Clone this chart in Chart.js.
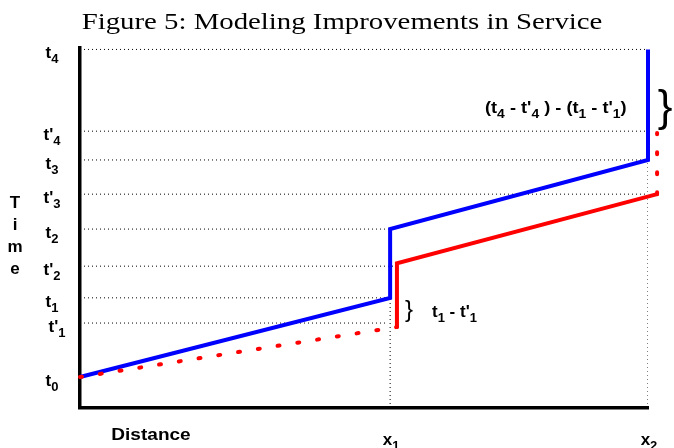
<!DOCTYPE html>
<html>
<head>
<meta charset="utf-8">
<script src="https://cdn.jsdelivr.net/npm/chart.js@4"></script>
<style>
    body { margin: 0; background: #fff; }
</style>
</head>
<body>
<canvas id="chart" width="674" height="448"></canvas>
<script>
// time levels (y) and distance positions (x)
const t0 = 8.6, t1p = 23.6, t1 = 30.6, t2p = 39.4, t2 = 49.7;
const t3p = 59.4, t3 = 68.9, t4p = 76.9, t4 = 99.6;
const x1 = 54.6, x2 = 100;

const titleText = 'Figure 5: Modeling Improvements in Service';

const yTickValues = [t0, t1p, t1, t2p, t2, t3p, t3, t4p, t4];
const yTickBase = ['t', "t'", 't', "t'", 't', "t'", 't', "t'", 't'];
const yTickSub = ['0', '1', '1', '2', '2', '3', '3', '4', '4'];

const xTickValues = [x1, x2];
const xTickSub = ['1', '2'];

// current service (blue)
const blueX = [0, x1, x1, x2, x2];
const blueY = [t0, t1, t2, t3, t4];

// improved service (red)
const redX = [0, 55.8, 55.8, 101.6, 101.6];
const redY = [t0, 22.5, 40.2, 59.4, 76.4];

// dotted guide lines: horizontal ones end where they meet a line
const guideY = [t1p, t1, t2p, t2, t3p, t3, t4p, t4];
const guideEnd = [54.2, x1, 55.8, x1, x2, x2, x2, x2];
const vGuideX = [x1, x2];
const vGuideTop = [t1, t4];

const SANS = '"Liberation Sans", Arial, sans-serif';

function pts(xs, ys) {
    return xs.map((x, i) => ({x: x, y: ys[i]}));
}

const guideStyle = {
    borderColor: '#000',
    borderWidth: 1,
    borderDash: [1, 3],
    pointRadius: 0,
    order: 5
};

const datasets = [
    {
        label: 'improved',
        data: pts(redX, redY),
        indexAxis: 'y',   // x runs past the axis end, y stays inside
        borderColor: '#ff0000',
        borderWidth: 4,
        pointRadius: 0,
        borderCapStyle: 'round',
        clip: false,
        order: 0,
        segment: {
            borderDash: ctx => (ctx.p0DataIndex === 0 || ctx.p0DataIndex === 3) ? [2, 18] : undefined
        }
    },
    {
        label: 'current',
        data: pts(blueX, blueY),
        borderColor: '#0000ff',
        borderWidth: 4,
        pointRadius: 0,
        borderJoinStyle: 'miter',
        clip: false,
        order: 1
    }
];
guideY.forEach((y, i) => {
    datasets.push(Object.assign({data: [{x: 0, y: y}, {x: guideEnd[i], y: y}]}, guideStyle));
});
vGuideX.forEach((x, i) => {
    datasets.push(Object.assign({data: [{x: x, y: 0}, {x: x, y: vGuideTop[i]}]}, guideStyle));
});

// text with subscripts, parts = [[text, isSub], ...]
function drawRich(ctx, parts, x, y, size, subSize, align, stretch) {
    stretch = stretch || 1;
    const mainFont = 'bold ' + size + 'px ' + SANS;
    const subFont = 'bold ' + subSize + 'px ' + SANS;
    let w = 0;
    parts.forEach(p => {
        ctx.font = p[1] ? subFont : mainFont;
        w += ctx.measureText(p[0]).width;
    });
    ctx.save();
    ctx.translate(align === 'center' ? x - w * stretch / 2 : x, y);
    ctx.scale(stretch, 1);
    ctx.textAlign = 'left';
    ctx.textBaseline = 'alphabetic';
    let cx = 0;
    parts.forEach(p => {
        ctx.font = p[1] ? subFont : mainFont;
        ctx.fillText(p[0], cx, p[1] ? 5 : 0);
        cx += ctx.measureText(p[0]).width;
    });
    ctx.restore();
}

const labelPlugin = {
    id: 'labels',
    afterDraw(chart) {
        const ctx = chart.ctx;
        const xs = chart.scales.x, ys = chart.scales.y;
        ctx.save();
        ctx.fillStyle = '#000';

        // title
        ctx.save();
        ctx.translate(342, 29);
        ctx.scale(1.2, 1);
        ctx.font = '24px "Liberation Serif", "Times New Roman", serif';
        ctx.textAlign = 'center';
        ctx.textBaseline = 'alphabetic';
        ctx.fillText(titleText, 0, 0);
        ctx.restore();

        yTickValues.forEach((v, i) => {
            const py = ys.getPixelForValue(v);
            const nudge = (yTickBase[i] === "t'" && yTickSub[i] === '1') ? 5 : 0;
            drawRich(ctx, [[yTickBase[i], 0], [yTickSub[i], 1]], 52 + nudge, py + 9, 17, 13, 'center');
        });

        xTickValues.forEach((v, i) => {
            const px = xs.getPixelForValue(v);
            drawRich(ctx, [['x', 0], [xTickSub[i], 1]], px + 1, 445, 17, 13, 'center');
        });

        drawRich(ctx, [['Distance', 0]], 151, 440, 17, 13, 'center', 1.12);
        ctx.font = 'bold 17px ' + SANS;
        ctx.textAlign = 'center';
        ctx.textBaseline = 'alphabetic';
        ['T', 'i', 'm', 'e'].forEach((c, i) => ctx.fillText(c, 15, 208 + i * 22));

        // braces
        ctx.font = '24px ' + SANS;
        ctx.fillText('}', 409, 317);
        ctx.font = '44px ' + SANS;
        ctx.fillText('}', 665, 121);

        drawRich(ctx, [['t', 0], ['1', 1], [" - t'", 0], ['1', 1]], 432, 317, 17, 13, 'left');
        drawRich(ctx, [['(t', 0], ['4', 1], [" - t'", 0], ['4', 1], [' ) - (t', 0], ['1', 1],
            [" - t'", 0], ['1', 1], [')', 0]], 485, 113, 17, 13, 'left', 1.07);
        ctx.restore();
    }
};

const axisOpts = {
    type: 'linear',
    min: 0,
    max: 100,
    grid: {display: false, drawTicks: false},
    ticks: {display: false},
    border: {display: true, color: '#000', width: 3.5}
};

new Chart(document.getElementById('chart'), {
    type: 'line',
    data: {datasets: datasets},
    options: {
        responsive: false,
        animation: false,
        events: [],
        layout: {padding: {left: 80, right: 26, top: 48, bottom: 40}},
        scales: {
            x: Object.assign({}, axisOpts),
            y: Object.assign({}, axisOpts)
        },
        plugins: {
            legend: {display: false},
            tooltip: {enabled: false},
            title: {display: false}
        }
    },
    plugins: [labelPlugin]
});
</script>
</body>
</html>
